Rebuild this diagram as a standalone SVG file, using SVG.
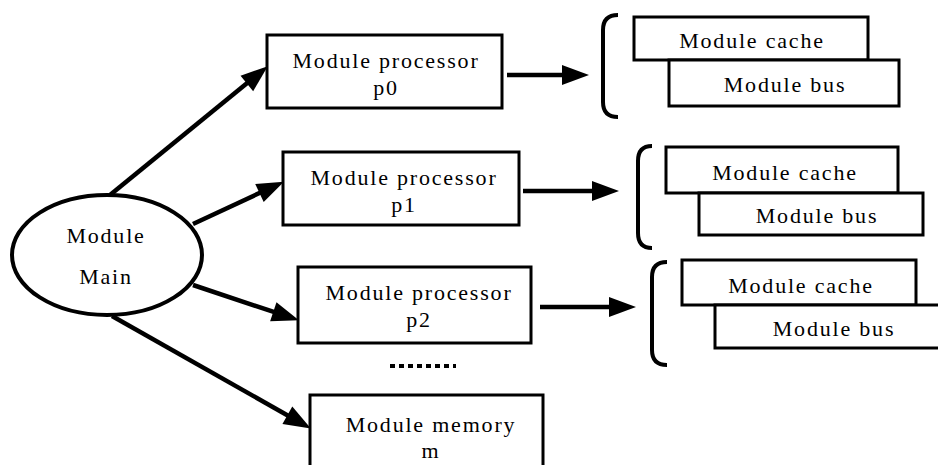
<svg xmlns="http://www.w3.org/2000/svg" width="938" height="465" viewBox="0 0 938 465">
<style>
.box{fill:#fff;stroke:#000;stroke-width:3}
.t{font-family:'Liberation Serif','DejaVu Serif',serif;font-size:22px;letter-spacing:1.8px;fill:#000;text-anchor:middle}
.arr{stroke:#000;stroke-width:4.5;fill:none;marker-end:url(#ah)}
.br{stroke:#000;stroke-width:4;fill:none}
</style>
<defs>
<marker id="ah" markerUnits="userSpaceOnUse" markerWidth="28" markerHeight="20" refX="6" refY="10" orient="auto" overflow="visible">
<path d="M0,0 L27,10 L0,20 Z" fill="#000"/>
</marker>
</defs>
<rect width="938" height="465" fill="#fff"/>
<g id="main">
<ellipse cx="107" cy="255" rx="95" ry="60" fill="#fff" stroke="#000" stroke-width="4"/>
<text class="t" x="106" y="243" font-family="Liberation Serif, serif">Module</text>
<text class="t" x="106" y="284" font-family="Liberation Serif, serif">Main</text>
</g>
<g id="p0">
<rect class="box" x="267" y="35" width="235" height="73"/>
<text class="t" x="386" y="68">Module processor</text>
<text class="t" x="386" y="95">p0</text>
</g>
<g id="p1">
<rect class="box" x="283" y="152" width="236" height="73"/>
<text class="t" x="404" y="185">Module processor</text>
<text class="t" x="404" y="212">p1</text>
</g>
<g id="p2">
<rect class="box" x="298" y="267" width="233" height="76"/>
<text class="t" x="419" y="300">Module processor</text>
<text class="t" x="419" y="327">p2</text>
</g>
<g id="dots">
<line x1="390" y1="366" x2="456" y2="366" stroke="#000" stroke-width="4" stroke-dasharray="5,4"/>
</g>
<g id="memory">
<rect class="box" x="310" y="395" width="233" height="90"/>
<text class="t" x="431" y="432">Module memory</text>
<text class="t" x="431" y="458">m</text>
</g>
<g id="group0">
<path class="br" d="M618,15 Q603,15 603,30 L603,102 Q603,117 618,117"/>
<rect class="box" x="634" y="17" width="234" height="43"/>
<text class="t" x="752" y="48">Module cache</text>
<rect class="box" x="669" y="60" width="230" height="46"/>
<text class="t" x="785" y="92">Module bus</text>
</g>
<g id="group1">
<path class="br" d="M652,146 Q638,146 638,161 L638,233 Q638,248 652,248"/>
<rect class="box" x="666" y="147" width="232" height="46"/>
<text class="t" x="785" y="180">Module cache</text>
<rect class="box" x="699" y="193" width="224" height="42"/>
<text class="t" x="817" y="223">Module bus</text>
</g>
<g id="group2">
<path class="br" d="M667,262 Q652,262 652,277 L652,350 Q652,365 667,365"/>
<rect class="box" x="682" y="260" width="234" height="45"/>
<text class="t" x="801" y="293">Module cache</text>
<rect class="box" x="715" y="305" width="240" height="43"/>
<text class="t" x="834" y="336">Module bus</text>
</g>
<g id="connectors">
<line class="arr" x1="110" y1="195" x2="251.5" y2="79.6"/>
<line class="arr" x1="193" y1="224" x2="264.9" y2="190.5"/>
<line class="arr" x1="193" y1="285" x2="279" y2="313.7"/>
<line class="arr" x1="112" y1="316" x2="292.6" y2="418.2"/>
<line class="arr" x1="507" y1="75" x2="568" y2="75"/>
<line class="arr" x1="523" y1="191" x2="598" y2="191"/>
<line class="arr" x1="540" y1="307" x2="615" y2="307"/>
</g>
</svg>
